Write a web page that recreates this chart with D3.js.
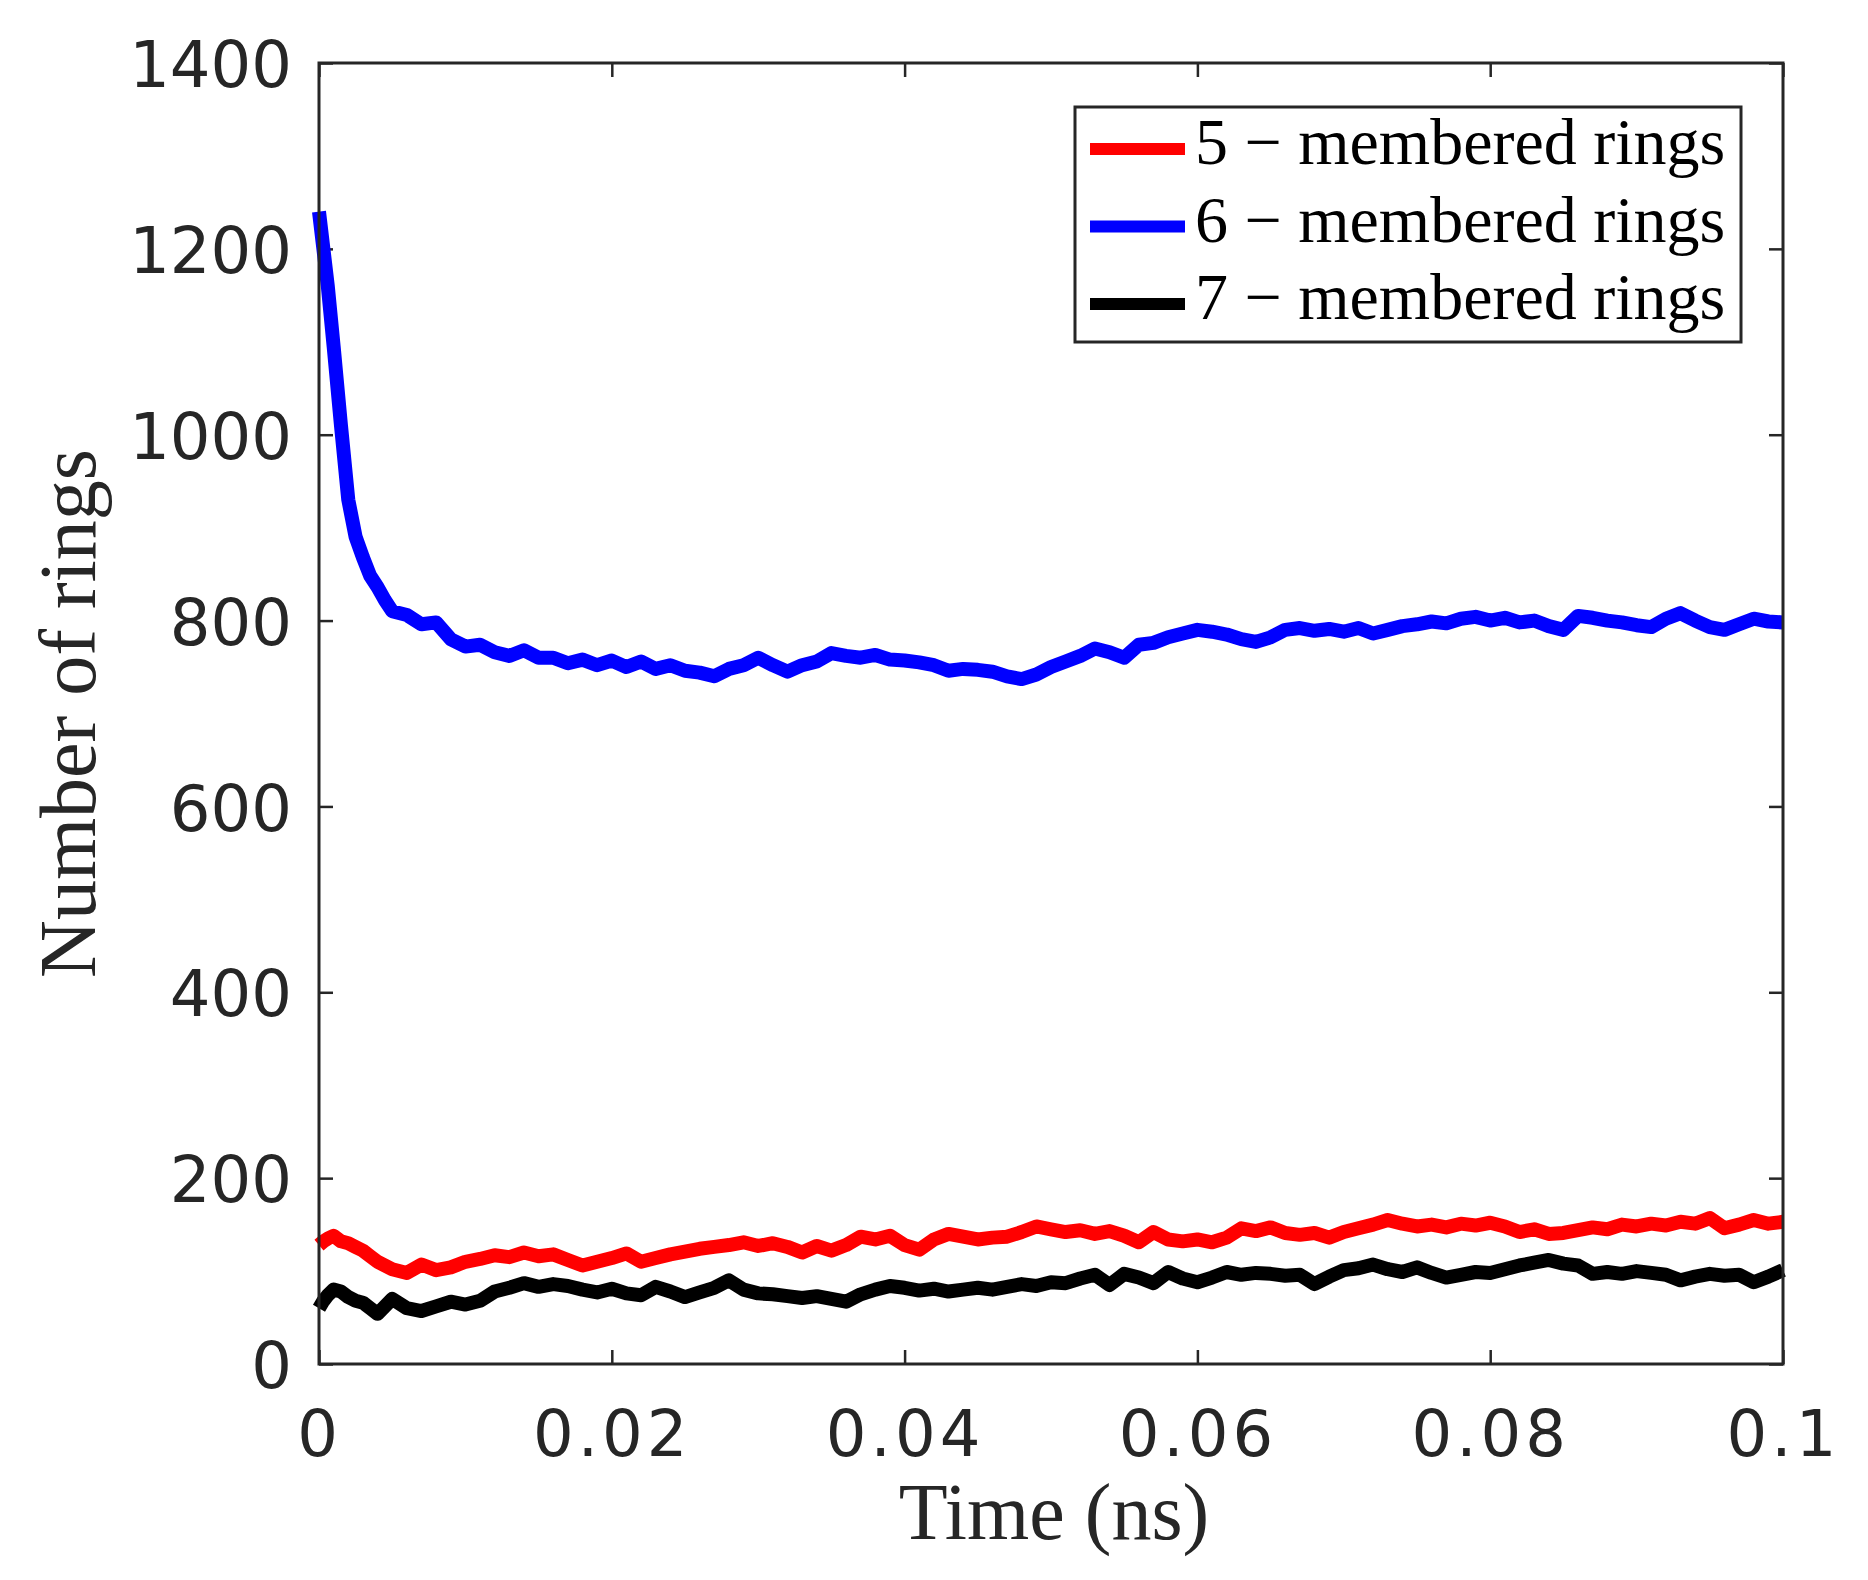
<!DOCTYPE html>
<html>
<head>
<meta charset="utf-8">
<script src="https://cdn.jsdelivr.net/npm/d3@7"></script>
<style>
  body { margin: 0; background: #fff; }
</style>
</head>
<body>
<div id="chart"></div>
<script>
// sample times (ns), denser near the start where the 6-ring count drops fast
const time = [0, 0.0003, 0.0006, 0.001, 0.0015, 0.002, 0.0025, 0.003, 0.0035, 0.004, 0.0045, 0.005,
  0.006, 0.007, 0.008, 0.009, 0.010, 0.011, 0.012, 0.013, 0.014, 0.015, 0.016, 0.017, 0.018, 0.019,
  0.020, 0.021, 0.022, 0.023, 0.024, 0.025, 0.026, 0.027, 0.028, 0.029, 0.030, 0.031, 0.032, 0.033,
  0.034, 0.035, 0.036, 0.037, 0.038, 0.039, 0.040, 0.041, 0.042, 0.043, 0.044, 0.045, 0.046, 0.047,
  0.048, 0.049, 0.050, 0.051, 0.052, 0.053, 0.054, 0.055, 0.056, 0.057, 0.058, 0.059, 0.060, 0.061,
  0.062, 0.063, 0.064, 0.065, 0.066, 0.067, 0.068, 0.069, 0.070, 0.071, 0.072, 0.073, 0.074, 0.075,
  0.076, 0.077, 0.078, 0.079, 0.080, 0.081, 0.082, 0.083, 0.084, 0.085, 0.086, 0.087, 0.088, 0.089,
  0.090, 0.091, 0.092, 0.093, 0.094, 0.095, 0.096, 0.097, 0.098, 0.099, 0.100];

const ring5 = [128, 132, 135, 138, 132, 130, 126, 122, 116, 110, 106, 102,
  98, 107, 101, 104, 110, 113, 117, 115, 120, 116, 118, 112, 106, 110,
  114, 119, 110, 114, 118, 121, 124, 126, 128, 131, 127, 130, 126, 120,
  127, 122, 128, 137, 134, 138, 128, 123, 134, 140, 137, 134, 136, 137,
  142, 148, 145, 142, 144, 140, 143, 138, 131, 142, 134, 132, 134, 131,
  136, 146, 143, 147, 141, 139, 141, 136, 142, 146, 150, 155, 151, 148,
  150, 147, 151, 149, 152, 148, 142, 145, 140, 141, 144, 147, 145, 150,
  148, 151, 149, 153, 151, 157, 146, 150, 155, 151, 153];

const ring6 = [1240, 1200, 1160, 1095, 1010, 930, 890, 868, 848, 836, 822, 810,
  806, 796, 798, 780, 772, 774, 766, 762, 768, 760, 760, 754, 758, 752,
  757, 750, 756, 748, 752, 746, 744, 740, 748, 752, 760, 752, 745, 752,
  756, 765, 762, 760, 763, 758, 757, 755, 752, 746, 748, 747, 745, 740,
  737, 742, 750, 756, 762, 770, 766, 760, 774, 776, 782, 786, 790, 788,
  785, 780, 777, 782, 790, 792, 789, 791, 788, 792, 786, 790, 794, 796,
  799, 797, 802, 804, 800, 803, 798, 800, 794, 790, 805, 803, 800, 798,
  795, 793, 802, 808, 800, 793, 790, 796, 802, 799, 798];

const ring7 = [60, 68, 74, 80, 78, 72, 68, 66, 60, 54, 62, 70,
  60, 57, 62, 67, 64, 68, 78, 82, 87, 83, 86, 84, 80, 77,
  81, 76, 74, 83, 78, 72, 77, 82, 90, 80, 76, 75, 73, 71,
  73, 70, 67, 75, 80, 84, 82, 79, 81, 78, 80, 82, 80, 83,
  86, 84, 88, 87, 92, 96, 85, 97, 93, 87, 99, 92, 88, 93,
  99, 96, 98, 97, 95, 96, 86, 94, 101, 103, 107, 102, 99, 104,
  98, 93, 96, 99, 98, 102, 106, 109, 112, 108, 106, 97, 99, 97,
  100, 98, 96, 90, 94, 97, 95, 96, 88, 94, 101];

const seriesNames = ['5 \u2212 membered rings', '6 \u2212 membered rings', '7 \u2212 membered rings'];
const seriesColors = ['#ff0000', '#0000ff', '#000000'];
const xTicks = [0, 0.02, 0.04, 0.06, 0.08, 0.1];
const xTickLabels = ['0', '0.02', '0.04', '0.06', '0.08', '0.1'];
const yTicks = [0, 200, 400, 600, 800, 1000, 1200, 1400];

const W = 1868, H = 1580;
const [x0, x1, y0, y1] = [319, 1783, 63, 1364];
const axisColor = '#262626';

const svg = d3.select('#chart').append('svg')
  .attr('width', W)
  .attr('height', H);

const xScale = d3.scaleLinear().domain([0, 0.1]).range([x0, x1]);
const yScale = d3.scaleLinear().domain([0, 1400]).range([y1, y0]);

// axes with inward ticks, mirrored on top/right like MATLAB's box
const tick = 14;
const xAxis = svg.append('g').attr('transform', `translate(0, ${y1})`)
  .call(d3.axisBottom(xScale).tickValues(xTicks).tickSize(-tick).tickSizeOuter(0)
    .tickFormat((d, i) => xTickLabels[i]));
xAxis.selectAll('text')
  .attr('y', 92).attr('dy', 0)
  .style('font-family', '"DejaVu Sans", sans-serif')
  .style('font-size', '64px')
  .style('letter-spacing', '4px')
  .attr('fill', axisColor);

const yAxis = svg.append('g').attr('transform', `translate(${x0}, 0)`)
  .call(d3.axisLeft(yScale).tickValues(yTicks).tickSize(-tick).tickSizeOuter(0)
    .tickFormat(d3.format('d')));
yAxis.selectAll('text')
  .attr('x', -27).attr('dy', '0.37em')
  .style('font-family', '"DejaVu Sans", sans-serif')
  .style('font-size', '64px')
  .attr('fill', axisColor);

svg.append('g').attr('transform', `translate(0, ${y0})`)
  .call(d3.axisTop(xScale).tickValues(xTicks).tickSize(-tick).tickSizeOuter(0).tickFormat(''));
svg.append('g').attr('transform', `translate(${x1}, 0)`)
  .call(d3.axisRight(yScale).tickValues(yTicks).tickSize(-tick).tickSizeOuter(0).tickFormat(''));

svg.selectAll('.domain').remove();
svg.selectAll('.tick line').attr('stroke', axisColor).attr('stroke-width', 2.5);

// series
const series = [ring5, ring6, ring7];
const line = d3.line()
  .x((d, i) => xScale(time[i]))
  .y(d => yScale(d));

series.forEach((vals, k) => {
  svg.append('path')
    .datum(vals)
    .attr('d', line)
    .attr('fill', 'none')
    .attr('stroke', seriesColors[k])
    .attr('stroke-width', 14)
    .attr('stroke-linejoin', 'round');
});

// plot box
svg.append('rect')
  .attr('x', x0).attr('y', y0)
  .attr('width', x1 - x0).attr('height', y1 - y0)
  .attr('fill', 'none')
  .attr('stroke', axisColor)
  .attr('stroke-width', 3);

// axis labels
svg.append('text')
  .attr('x', (x0 + x1) / 2 + 3).attr('y', 1539)
  .attr('text-anchor', 'middle')
  .style('font-family', '"Liberation Serif", "Times New Roman", serif')
  .style('font-size', '80px')
  .attr('fill', axisColor)
  .text('Time (ns)');

svg.append('text')
  .attr('transform', `translate(95, ${(y0 + y1) / 2}) rotate(-90)`)
  .attr('text-anchor', 'middle')
  .style('font-family', '"Liberation Serif", "Times New Roman", serif')
  .style('font-size', '80px')
  .attr('fill', axisColor)
  .text('Number of rings');

// legend
const lg = svg.append('g');
lg.append('rect')
  .attr('x', 1075).attr('y', 107)
  .attr('width', 666).attr('height', 235)
  .attr('fill', '#fff')
  .attr('stroke', axisColor)
  .attr('stroke-width', 3);

seriesNames.forEach((name, k) => {
  const ly = 149 + k * 77.5;
  lg.append('line')
    .attr('x1', 1090).attr('x2', 1185)
    .attr('y1', ly).attr('y2', ly)
    .attr('stroke', seriesColors[k])
    .attr('stroke-width', 12);
  lg.append('text')
    .attr('x', 1195).attr('y', ly + 15)
    .style('font-family', '"Liberation Serif", "Times New Roman", serif')
    .style('font-size', '66px')
    .attr('fill', '#000')
    .text(name);
});
</script>
</body>
</html>
